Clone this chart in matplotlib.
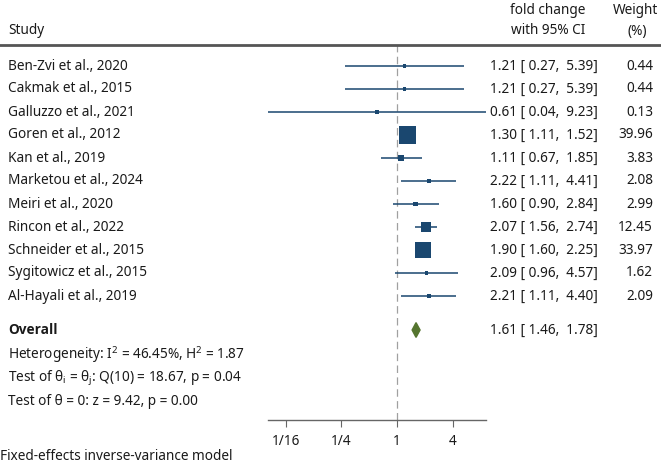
import matplotlib
matplotlib.use("Agg")
import matplotlib.pyplot as plt
import matplotlib.transforms as mtrans
from matplotlib.lines import Line2D
from matplotlib.patches import Polygon
import numpy as np

studies = ["Ben-Zvi et al., 2020", "Cakmak et al., 2015", "Galluzzo et al., 2021",
           "Goren et al., 2012", "Kan et al., 2019", "Marketou et al., 2024",
           "Meiri et al., 2020", "Rincon et al., 2022", "Schneider et al., 2015",
           "Sygitowicz et al., 2015", "Al-Hayali et al., 2019"]
est = [1.21, 1.21, 0.61, 1.30, 1.11, 2.22, 1.60, 2.07, 1.90, 2.09, 2.21]
lo = [0.27, 0.27, 0.04, 1.11, 0.67, 1.11, 0.90, 1.56, 1.60, 0.96, 1.11]
hi = [5.39, 5.39, 9.23, 1.52, 1.85, 4.41, 2.84, 2.74, 2.25, 4.57, 4.40]
weights = [0.44, 0.44, 0.13, 39.96, 3.83, 2.08, 2.99, 12.45, 33.97, 1.62, 2.09]
overall = (1.61, 1.46, 1.78)
stats_lines = ["Heterogeneity: I$^{2}$ = 46.45%, H$^{2}$ = 1.87",
               "Test of θ$_{i}$ = θ$_{j}$: Q(10) = 18.67, p = 0.04",
               "Test of θ = 0: z = 9.42, p = 0.00"]
tick_vals = [1/16, 1/4, 1, 4]
tick_labels = ["1/16", "1/4", "1", "4"]

FONT = "Noto Sans"
plt.rcParams["font.family"] = [FONT, "DejaVu Sans"]
plt.rcParams["mathtext.fontset"] = "custom"
plt.rcParams["mathtext.rm"] = FONT
plt.rcParams["mathtext.it"] = FONT
plt.rcParams["mathtext.default"] = "regular"

W, H = 661, 465
fig = plt.figure(figsize=(W/100, H/100), dpi=100)
def fx(px): return px / W
def fy(py): return 1 - py / H

ax_top, ax_bot = 45, 420
ax = fig.add_axes([fx(268), fy(ax_bot), fx(486) - fx(268), (ax_bot - ax_top) / H])
ax.set_xscale("log", base=2)
ax.set_xlim(min(lo), max(hi))
row0, step = 66, 23
ax.set_ylim((ax_bot - row0) / step, (ax_top - row0) / step)

navy = "#1a476f"
green = "#55752f"
txt = "#1a1a1a"
fs = 9.8

n = len(studies)
ys = np.arange(n)
ax.axvline(1, color="#a0a0a0", lw=0.9, ls=(0, (6, 3.5)), zorder=1)
for i in range(n):
    ax.plot([lo[i], hi[i]], [ys[i], ys[i]], color=navy, lw=1.1, zorder=2, solid_capstyle="butt")
side_px = np.maximum(2.7 * np.sqrt(np.array(weights)), 3.4)
ax.scatter(est, ys, s=(side_px * 0.72) ** 2, marker="s", color=navy, zorder=3, linewidths=0)

y_over = (330 - row0) / step
e, l, h = overall
ax.add_patch(Polygon([[l, y_over], [e, y_over - 0.32], [h, y_over], [e, y_over + 0.32]],
                     closed=True, color=green, zorder=3))

for s in ["top", "right", "left"]:
    ax.spines[s].set_visible(False)
ax.spines["bottom"].set_color("#666666")
ax.spines["bottom"].set_linewidth(1.0)
ax.set_yticks([])
ax.set_xticks(tick_vals)
ax.set_xticklabels(tick_labels)
ax.minorticks_off()
ax.tick_params(axis="x", length=5, color="#666666", labelsize=fs, labelcolor=txt, pad=5)

tr = mtrans.blended_transform_factory(fig.transFigure, ax.transData)
for i in range(n):
    ax.text(fx(8), ys[i], studies[i], transform=tr, ha="left", va="center", fontsize=fs, color=txt)
    ax.text(fx(598), ys[i], f"{est[i]:.2f} [{lo[i]:5.2f}, {hi[i]:5.2f}]",
            transform=tr, ha="right", va="center", fontsize=fs, color=txt)
    ax.text(fx(653), ys[i], f"{weights[i]:.2f}", transform=tr, ha="right", va="center", fontsize=fs, color=txt)
ax.text(fx(8), y_over, "Overall", transform=tr, ha="left", va="center", fontsize=fs, color=txt,
        fontweight="bold", family=["Open Sans", "DejaVu Sans"])
ax.text(fx(598), y_over, f"{e:.2f} [{l:5.2f}, {h:5.2f}]", transform=tr, ha="right", va="center", fontsize=fs, color=txt)
for k, line in enumerate(stats_lines):
    yk = (355 + 23 * k - row0) / step
    ax.text(fx(8), yk, line, transform=tr, ha="left", va="center", fontsize=fs, color=txt)

fig.text(fx(8), fy(30), "Study", ha="left", va="center", fontsize=fs, color=txt)
fig.text(fx(548), fy(11), "fold change", ha="center", va="center", fontsize=fs, color=txt)
fig.text(fx(548), fy(31), "with 95% CI", ha="center", va="center", fontsize=fs, color=txt)
fig.text(fx(635), fy(11), "Weight", ha="center", va="center", fontsize=fs, color=txt)
fig.text(fx(637), fy(31), "(%)", ha="center", va="center", fontsize=fs, color=txt)
fig.add_artist(Line2D([0, 1], [fy(45), fy(45)], transform=fig.transFigure, color="#555555", lw=2.0))
fig.text(fx(0), fy(456), "Fixed-effects inverse-variance model", ha="left", va="center", fontsize=fs, color=txt)

fig.savefig("out.png", dpi=100, facecolor="white")
